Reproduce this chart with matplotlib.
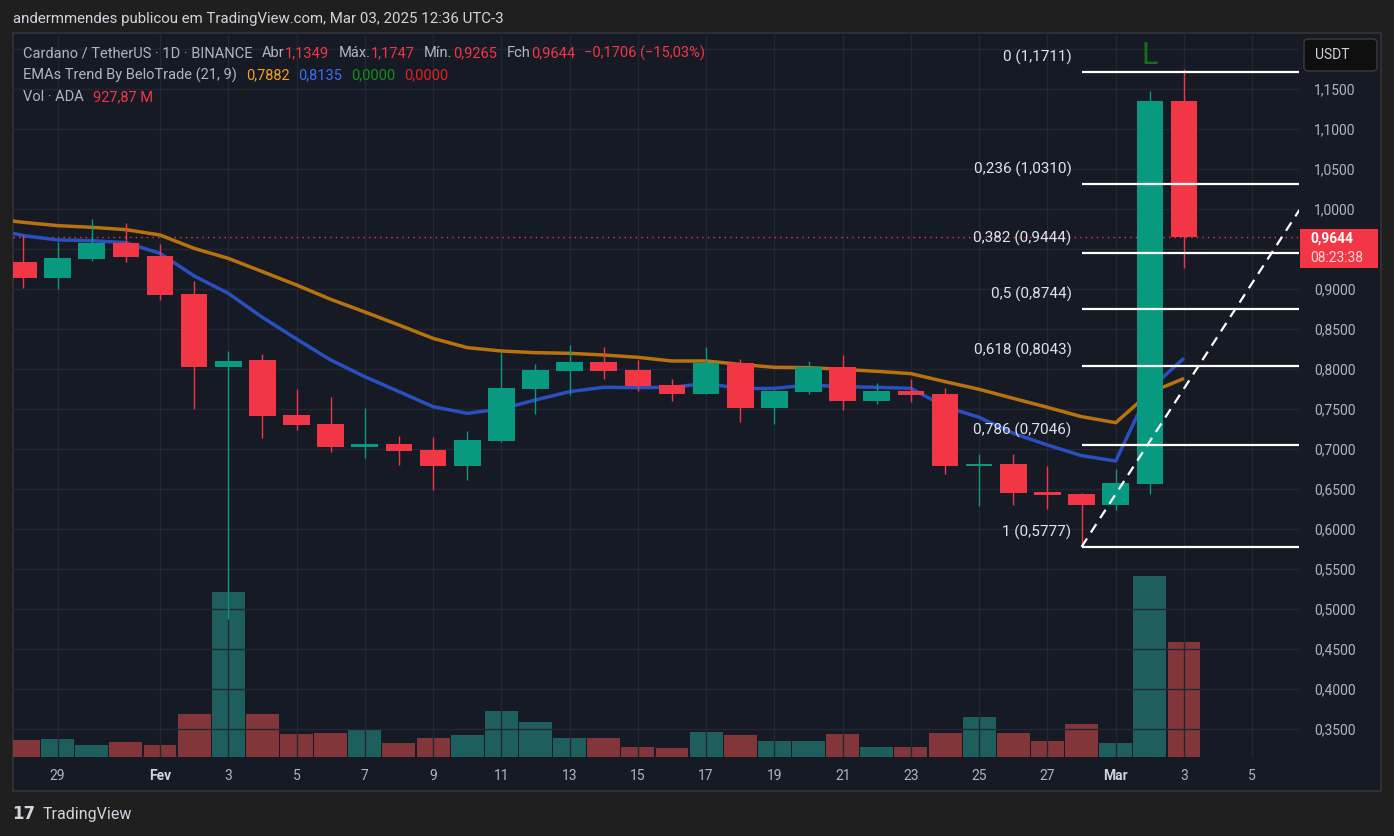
import numpy as np
import pandas as pd
import matplotlib
matplotlib.use("Agg")
import matplotlib.pyplot as plt
import matplotlib.dates as mdates
from matplotlib.patches import Rectangle, FancyBboxPatch
from matplotlib.ticker import FuncFormatter, FixedLocator

W, H = 1394, 836
plt.rcParams['font.family'] = ['Roboto', 'DejaVu Sans']

# ---------------- data ----------------
dates = ["2025-01-28", "2025-01-29", "2025-01-30", "2025-01-31",
         "2025-02-01", "2025-02-02", "2025-02-03", "2025-02-04", "2025-02-05",
         "2025-02-06", "2025-02-07", "2025-02-08", "2025-02-09", "2025-02-10",
         "2025-02-11", "2025-02-12", "2025-02-13", "2025-02-14", "2025-02-15",
         "2025-02-16", "2025-02-17", "2025-02-18", "2025-02-19", "2025-02-20",
         "2025-02-21", "2025-02-22", "2025-02-23", "2025-02-24", "2025-02-25",
         "2025-02-26", "2025-02-27", "2025-02-28", "2025-03-01", "2025-03-02",
         "2025-03-03"]
opens = [0.9338, 0.9142, 0.9379, 0.9575, 0.9413, 0.8938, 0.8029, 0.8113, 0.7425,
         0.7313, 0.7029, 0.7063, 0.6988, 0.6792, 0.7104, 0.7754, 0.7979, 0.8088,
         0.7988, 0.7800, 0.7692, 0.8075, 0.7517, 0.7717, 0.8025, 0.7604, 0.7725,
         0.7692, 0.6792, 0.6813, 0.6463, 0.6438, 0.6304, 0.6567, 1.1349]
highs = [0.9675, 0.9583, 0.9875, 0.9825, 0.9563, 0.9100, 0.8225, 0.8188, 0.7750,
         0.7650, 0.7513, 0.7163, 0.7150, 0.7225, 0.8200, 0.8063, 0.8300, 0.8275,
         0.8113, 0.7875, 0.8275, 0.8125, 0.7740, 0.8100, 0.8175, 0.7825, 0.7875,
         0.7763, 0.6942, 0.6942, 0.6788, 0.6450, 0.6750, 1.1475, 1.1747]
lows = [0.9017, 0.9000, 0.9354, 0.9338, 0.8867, 0.7504, 0.4875, 0.7142, 0.7242,
        0.6967, 0.6892, 0.6800, 0.6492, 0.6617, 0.7092, 0.7442, 0.7679, 0.7879,
        0.7729, 0.7604, 0.7688, 0.7342, 0.7317, 0.7692, 0.7492, 0.7567, 0.7592,
        0.6692, 0.6292, 0.6304, 0.6254, 0.5777, 0.6242, 0.6442, 0.9265]
closes = [0.9142, 0.9388, 0.9575, 0.9404, 0.8929, 0.8029, 0.8100, 0.7417, 0.7304,
          0.7029, 0.7063, 0.6979, 0.6792, 0.7113, 0.7763, 0.7988, 0.8088, 0.7979,
          0.7792, 0.7692, 0.8075, 0.7517, 0.7725, 0.8025, 0.7604, 0.7725, 0.7679,
          0.6792, 0.6813, 0.6450, 0.6429, 0.6304, 0.6575, 1.1349, 0.9644]
volumes_m = [137, 145, 97, 121, 97, 347, 1331, 347, 186, 194, 218, 113, 153, 178,
             371, 282, 153, 153, 81, 73, 202, 178, 129, 129, 186, 81, 81, 194,
             323, 194, 129, 266, 113, 1461, 928]

ema_dates = ["2025-01-27"] + dates
ema21 = [0.9887, 0.9833, 0.9792, 0.9771, 0.9742, 0.9675, 0.9508, 0.9383, 0.9217,
         0.9050, 0.8871, 0.8713, 0.8550, 0.8383, 0.8267, 0.8225, 0.8204, 0.8196,
         0.8175, 0.8146, 0.8100, 0.8100, 0.8058, 0.8021, 0.8017, 0.7996, 0.7971,
         0.7942, 0.7842, 0.7746, 0.7633, 0.7521, 0.7404, 0.7329, 0.7705, 0.7882]
ema9 = [0.9762, 0.9667, 0.9613, 0.9604, 0.9579, 0.9446, 0.9163, 0.8946, 0.8646,
        0.8375, 0.8113, 0.7904, 0.7717, 0.7529, 0.7446, 0.7500, 0.7613, 0.7717,
        0.7771, 0.7767, 0.7771, 0.7821, 0.7754, 0.7758, 0.7800, 0.7779, 0.7771,
        0.7758, 0.7529, 0.7396, 0.7196, 0.7050, 0.6917, 0.6850, 0.7750, 0.8135]

fib_levels = ["0", "0,236", "0,382", "0,5", "0,618", "0,786", "1"]
fib_prices = [1.1711, 1.0310, 0.9444, 0.8744, 0.8043, 0.7046, 0.5777]
fib_start = "2025-02-28"

trend_dates = ["2025-02-28", "2025-03-07"]
trend_prices = [0.5777, 1.0395]

signal_date = "2025-03-02"
signal_text = "L"

tick_dates = ["2025-01-29", "2025-02-01", "2025-02-03", "2025-02-05", "2025-02-07",
              "2025-02-09", "2025-02-11", "2025-02-13", "2025-02-15", "2025-02-17",
              "2025-02-19", "2025-02-21", "2025-02-23", "2025-02-25", "2025-02-27",
              "2025-03-01", "2025-03-03", "2025-03-05"]
tick_labels = ["29", "Fev", "3", "5", "7", "9", "11", "13", "15", "17", "19", "21",
               "23", "25", "27", "Mar", "3", "5"]
month_labels = ["Fev", "Mar"]
price_ticks = [0.35, 0.40, 0.45, 0.50, 0.55, 0.60, 0.65, 0.70, 0.75, 0.80, 0.85,
               0.90, 0.95, 1.00, 1.05, 1.10, 1.15, 1.20]
last_price = 0.9644
countdown = "08:23:38"

# ---------------- colours ----------------
BG_OUT = '#1f1f1f'
BG = '#161a25'
GRID = '#232734'
TXT = '#b2b5be'
TXT_HI = '#d1d4dc'
UP = '#089981'
DN = '#f23645'
VOL_UP = '#1e5f5d'
VOL_DN = '#83363a'
EMA21_C = '#b8730f'
EMA9_C = '#2a4fbf'


def fx(px):
    return px / W


def fy(py):
    return 1 - py / H


fig = plt.figure(figsize=(W / 100, H / 100), dpi=100, facecolor=BG_OUT)

# outer chart panel
fig.add_artist(Rectangle((fx(13), fy(791)), fx(1381) - fx(13), fy(33) - fy(791),
                         transform=fig.transFigure, facecolor=BG,
                         edgecolor='#2e2f33', lw=1.5, zorder=-5))

pos = [fx(13), fy(757), fx(1299) - fx(13), fy(33) - fy(757)]
ax_vol = fig.add_axes(pos)
ax = fig.add_axes(pos)
for a in (ax_vol, ax):
    a.patch.set_alpha(0)
    for s in a.spines.values():
        s.set_visible(False)

x = mdates.date2num(pd.to_datetime(dates))
xe = mdates.date2num(pd.to_datetime(ema_dates))
feb1 = mdates.date2num(pd.Timestamp("2025-02-01"))
xlim = (feb1 - 4.307, feb1 + 33.37)
for a in (ax_vol, ax):
    a.set_xlim(*xlim)

o = np.array(opens); c = np.array(closes)
h = np.array(highs); l = np.array(lows)
up = c >= o

# volume
ax_vol.bar(x, volumes_m, width=0.965, color=[VOL_UP if u else VOL_DN for u in up],
           align='center', linewidth=0)
ax_vol.set_ylim(0, 5843)
ax_vol.set_xticks([]); ax_vol.set_yticks([])


def price_fmt(v, p):
    # the top tick sits under the currency box, the one next to the last
    # price sits under the price label
    if v > 1.17 or abs(v - last_price) < 0.025:
        return ''
    return f"{v:.4f}".replace('.', ',')


# price axes
ax.set_ylim(0.315, 1.22)
ax.set_axisbelow(True)
ax.yaxis.set_major_locator(FixedLocator(price_ticks))
ax.yaxis.set_major_formatter(FuncFormatter(price_fmt))
ax.yaxis.tick_right()
ax.tick_params(axis='y', length=0, pad=11, labelsize=10, labelcolor=TXT)
ax.set_xticks(mdates.date2num(pd.to_datetime(tick_dates)))
ax.set_xticklabels(tick_labels)
ax.tick_params(axis='x', length=0, pad=9, labelsize=10, labelcolor=TXT)
for t in ax.get_xticklabels():
    if t.get_text() in month_labels:
        t.set_fontweight('bold')
        t.set_color(TXT_HI)
ax.grid(True, color=GRID, lw=1)

# EMAs
ax.plot(xe, ema21, color=EMA21_C, lw=2.5, zorder=3, solid_capstyle='butt')
ax.plot(xe, ema9, color=EMA9_C, lw=2.5, zorder=3, solid_capstyle='butt')

# candles
cols = [UP if u else DN for u in up]
ax.vlines(x, l, h, colors=cols, lw=1, zorder=4)
body = np.maximum(np.abs(c - o), 0.0012)
ax.bar(x, body, bottom=np.minimum(o, c), width=0.78, color=cols, linewidth=0,
       zorder=5)

# last price dotted line
ax.axhline(last_price, color=DN, lw=1, ls=(0, (1, 3)), zorder=2)

# fibonacci
fx0 = mdates.date2num(pd.Timestamp(fib_start))
for lab, p in zip(fib_levels, fib_prices):
    ax.hlines(p, fx0, xlim[1] + 1, color='white', lw=1.6, zorder=6)
    ax.annotate(f"{lab} ({p:.4f})".replace('.', ','), xy=(fx0, p),
                xytext=(-10, 15), textcoords='offset pixels', ha='right',
                va='center', fontsize=11, color='#e0e3eb', zorder=7)

# trend line
ax.plot(mdates.date2num(pd.to_datetime(trend_dates)), trend_prices, color='white',
        lw=1.6, dashes=(4.5, 3.2), zorder=6)

# signal
si = dates.index(signal_date)
ax.annotate(signal_text, xy=(x[si], h[si]), xytext=(0, 36),
            textcoords='offset pixels', ha='center', va='center', fontsize=22,
            color='#127016', zorder=7)

# ---------- price label & currency box ----------
fig.add_artist(Rectangle((fx(1300), fy(268)), fx(1378) - fx(1300), fy(229) - fy(268),
                         transform=fig.transFigure, facecolor=DN, edgecolor='none',
                         zorder=10))
fig.text(fx(1310), fy(239), f"{last_price:.4f}".replace('.', ','), color='white',
         fontsize=10, fontweight='bold', va='center', ha='left', zorder=11)
fig.text(fx(1310), fy(258), countdown, color='#ffd3d7', fontsize=10,
         va='center', ha='left', zorder=11)

fig.add_artist(FancyBboxPatch((fx(1304), fy(71)), fx(1377) - fx(1304), fy(39) - fy(71),
                              boxstyle="round,pad=0,rounding_size=0.004",
                              transform=fig.transFigure, facecolor='#0f0f0f',
                              edgecolor='#3a3a3a', lw=1, zorder=10))
fig.text(fx(1332), fy(55), "USDT", color=TXT_HI, fontsize=10, va='center',
         ha='center', zorder=11)

# ---------- header texts ----------
fig.text(fx(13), fy(19), "andermmendes publicou em TradingView.com, Mar 03, 2025 12:36 UTC-3",
         color=TXT_HI, fontsize=10.8, va='center', ha='left')

renderer = fig.canvas.get_renderer()


def rich(x0, y0, parts, size=10.5):
    xp = x0
    for s, col, gap in parts:
        t = fig.text(fx(xp), fy(y0), s, color=col, fontsize=size, va='center',
                     ha='left', zorder=12)
        xp += t.get_window_extent(renderer=renderer).width + gap


RED_T = '#f23645'
rich(23, 53, [("Cardano / TetherUS · 1D · BINANCE", TXT, 9), ("Abr", TXT, 1),
              ("1,1349", RED_T, 9), ("Máx.", TXT, 1), ("1,1747", RED_T, 9),
              ("Mín.", TXT, 1), ("0,9265", RED_T, 9), ("Fch", TXT, 1),
              ("0,9644", RED_T, 9), ("−0,1706 (−15,03%)", RED_T, 0)])
rich(23, 75, [("EMAs Trend By BeloTrade (21, 9)", TXT, 9), ("0,7882", '#f5a020', 9),
              ("0,8135", '#3d6ff0', 9), ("0,0000", '#1a8c1a', 9),
              ("0,0000", '#e3202a', 0)])
rich(23, 97, [("Vol · ADA", TXT, 9), ("927,87 M", RED_T, 0)])

# ---------- footer logo ----------
fig.text(fx(12), fy(814), "17", color=TXT_HI, fontsize=12, fontweight='bold',
         va='center', ha='left', family='DejaVu Sans')
fig.text(fx(43), fy(814), "TradingView", color=TXT_HI, fontsize=11.5, va='center',
         ha='left')

fig.savefig("out.png", dpi=100, facecolor=BG_OUT)
